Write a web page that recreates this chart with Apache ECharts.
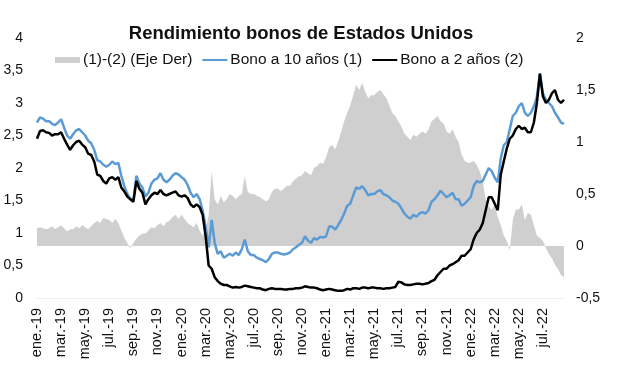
<!DOCTYPE html>
<html>
<head>
<meta charset="utf-8">
<script src="https://cdn.jsdelivr.net/npm/echarts@6/dist/echarts.min.js"></script>
<style>
html,body{margin:0;padding:0;background:#fff;}
#chart{width:617px;height:376px;}
</style>
</head>
<body>
<div id="chart"></div>
<script>
// meses del eje X (4 lecturas por mes)
var meses = ['ene.-19','feb.-19','mar.-19','abr.-19','may.-19','jun.-19','jul.-19','ago.-19','sep.-19','oct.-19','nov.-19','dic.-19',
	'ene.-20','feb.-20','mar.-20','abr.-20','may.-20','jun.-20','jul.-20','ago.-20','sep.-20','oct.-20','nov.-20','dic.-20',
	'ene.-21','feb.-21','mar.-21','abr.-21','may.-21','jun.-21','jul.-21','ago.-21','sep.-21','oct.-21','nov.-21','dic.-21',
	'ene.-22','feb.-22','mar.-22','abr.-22','may.-22','jun.-22','jul.-22','ago.-22'];

// Bono a 10 años (1)
var bono10 = [
	2.70,2.78,2.76,2.72, 2.72,2.68,2.66,2.70, 2.75,2.62,2.50,2.45, 2.52,2.58,2.60,2.55,
	2.50,2.42,2.38,2.28, 2.12,2.10,2.05,2.02, 2.05,2.10,2.06,2.08, 1.88,1.72,1.60,1.52,
	1.50,1.88,1.76,1.70, 1.56,1.62,1.76,1.82, 1.84,1.92,1.82,1.78, 1.82,1.88,1.92,1.90,
	1.86,1.82,1.74,1.62, 1.55,1.60,1.52,1.35, 1.10,0.78,1.20,0.85, 0.68,0.72,0.62,0.65,
	0.68,0.65,0.70,0.66, 0.75,0.90,0.72,0.66, 0.66,0.62,0.60,0.58, 0.55,0.60,0.68,0.70,
	0.70,0.68,0.67,0.68, 0.70,0.75,0.78,0.82, 0.85,0.95,0.88,0.85, 0.92,0.90,0.94,0.93,
	0.95,1.10,1.10,1.05, 1.12,1.20,1.30,1.42, 1.45,1.58,1.70,1.68, 1.72,1.66,1.58,1.60,
	1.60,1.64,1.66,1.60, 1.58,1.55,1.50,1.48, 1.45,1.38,1.30,1.25, 1.22,1.28,1.25,1.30,
	1.32,1.30,1.35,1.48, 1.52,1.58,1.65,1.60, 1.55,1.58,1.62,1.52, 1.52,1.42,1.45,1.50,
	1.55,1.72,1.80,1.78, 1.80,1.90,2.00,1.95, 1.85,1.78,2.15,2.35, 2.40,2.60,2.80,2.85,
	2.95,3.00,2.85,2.80, 2.85,2.95,3.10,3.45, 3.15,3.05,3.00,2.95, 2.85,2.78,2.70,2.68
];

// Bono a 2 años (2)
var bono2 = [
	2.45,2.57,2.58,2.55, 2.54,2.50,2.52,2.52, 2.55,2.45,2.36,2.28, 2.35,2.40,2.42,2.36,
	2.32,2.22,2.20,2.10, 1.90,1.88,1.80,1.76, 1.84,1.86,1.82,1.86, 1.70,1.64,1.56,1.52,
	1.48,1.80,1.68,1.62, 1.44,1.52,1.58,1.62, 1.60,1.66,1.60,1.58, 1.60,1.62,1.64,1.58,
	1.56,1.58,1.54,1.44, 1.40,1.44,1.40,1.28, 0.95,0.50,0.45,0.32, 0.26,0.22,0.20,0.20,
	0.18,0.16,0.17,0.16, 0.17,0.19,0.18,0.17, 0.16,0.15,0.15,0.13, 0.12,0.14,0.15,0.14,
	0.14,0.14,0.13,0.13, 0.14,0.14,0.15,0.15, 0.16,0.18,0.17,0.16, 0.16,0.15,0.13,0.12,
	0.13,0.14,0.13,0.12, 0.11,0.11,0.12,0.14, 0.13,0.15,0.15,0.14, 0.16,0.16,0.15,0.16,
	0.16,0.15,0.15,0.14, 0.15,0.15,0.16,0.17, 0.25,0.24,0.21,0.20, 0.20,0.21,0.22,0.22,
	0.21,0.22,0.23,0.26, 0.28,0.35,0.40,0.45, 0.45,0.50,0.52,0.55, 0.58,0.65,0.65,0.70,
	0.75,0.90,1.00,1.05, 1.15,1.35,1.55,1.55, 1.45,1.35,1.90,2.10, 2.30,2.45,2.50,2.60,
	2.65,2.60,2.62,2.55, 2.55,2.70,3.00,3.45, 3.10,3.00,3.05,3.15, 3.20,3.05,3.00,3.05
];

// (1)-(2) diferencial, eje derecho
var diferencial = [
	0.17,0.18,0.17,0.16, 0.17,0.19,0.16,0.18, 0.20,0.17,0.14,0.16, 0.16,0.19,0.17,0.20,
	0.18,0.16,0.19,0.22, 0.24,0.22,0.27,0.26, 0.25,0.22,0.26,0.22, 0.15,0.08,0.03,-0.02,
	0.03,0.07,0.10,0.12, 0.12,0.15,0.18,0.17, 0.20,0.22,0.19,0.23, 0.24,0.28,0.30,0.26,
	0.30,0.26,0.22,0.20, 0.18,0.22,0.15,0.10, 0.15,0.30,0.72,0.45, 0.40,0.48,0.42,0.45,
	0.50,0.48,0.45,0.48, 0.50,0.67,0.52,0.50, 0.50,0.48,0.47,0.45, 0.43,0.45,0.52,0.55,
	0.55,0.53,0.55,0.58, 0.58,0.62,0.65,0.67, 0.68,0.72,0.70,0.68, 0.75,0.77,0.80,0.79,
	0.85,0.95,0.97,0.93, 1.00,1.10,1.20,1.28, 1.35,1.45,1.55,1.50, 1.57,1.48,1.42,1.45,
	1.45,1.48,1.50,1.46, 1.42,1.35,1.28,1.25, 1.20,1.15,1.08,1.05, 1.02,1.07,1.05,1.08,
	1.10,1.08,1.12,1.20, 1.22,1.25,1.20,1.18, 1.10,1.08,1.12,1.05, 1.00,0.88,0.82,0.80,
	0.80,0.82,0.78,0.72, 0.62,0.45,0.38,0.35, 0.40,0.28,0.20,0.10, 0.05,-0.04,0.25,0.35,
	0.35,0.40,0.25,0.32, 0.30,0.20,0.10,0.08, 0.05,-0.02,-0.08,-0.12, -0.18,-0.22,-0.28,-0.30
];

var categorias = [];
for (var i = 0; i < meses.length; i++) {
	for (var s = 0; s < 4; s++) {
		categorias.push(meses[i] + '#' + s);
	}
}

function coma(v) {
	return String(v).replace('.', ',');
}

var myChart = echarts.init(document.getElementById('chart'));
var fuente = '"Liberation Sans", Arial, sans-serif';
var option = {
	animation: false,
	backgroundColor: '#fff',
	textStyle: { fontFamily: fuente },
	title: {
		text: 'Rendimiento bonos de Estados Unidos',
		left: 296,
		textAlign: 'center',
		top: 19,
		textStyle: { fontSize: 18.5, fontWeight: 'bold', color: '#111', fontFamily: fuente }
	},
	legend: {
		left: 50,
		top: 47,
		itemWidth: 25,
		itemHeight: 6,
		itemGap: 9,
		textStyle: { fontSize: 15.5, color: '#111', fontFamily: fuente, padding: [0, 0, 0, -2] },
		data: [
			{ name: '(1)-(2) (Eje Der)', icon: 'rect' },
			{ name: 'Bono a 10 años (1)', itemStyle: { opacity: 0 }, lineStyle: { width: 2 } },
			{ name: 'Bono a 2 años (2)', itemStyle: { opacity: 0 }, lineStyle: { width: 2 } }
		]
	},
	grid: { left: 37, right: 53, top: 38, bottom: 78 },
	xAxis: {
		type: 'category',
		boundaryGap: false,
		data: categorias,
		axisLine: { show: true, lineStyle: { color: '#eeeeee' } },
		axisTick: { show: false },
		axisLabel: {
			interval: 7,
			rotate: 90,
			margin: 10,
			fontSize: 14.5,
			color: '#111',
			formatter: function (v) { return v.split('#')[0]; }
		}
	},
	yAxis: [
		{
			type: 'value',
			min: 0,
			max: 4,
			interval: 0.5,
			position: 'left',
			axisLine: { show: false },
			axisTick: { show: false },
			splitLine: { show: false },
			axisLabel: { fontSize: 14, color: '#111', margin: 14, formatter: coma }
		},
		{
			type: 'value',
			min: -0.5,
			max: 2,
			interval: 0.5,
			position: 'right',
			axisLine: { show: false },
			axisTick: { show: false },
			splitLine: { show: false },
			axisLabel: { fontSize: 14, color: '#111', margin: 12, formatter: coma }
		}
	],
	series: [
		{
			name: '(1)-(2) (Eje Der)',
			type: 'line',
			yAxisIndex: 1,
			data: diferencial,
			symbol: 'none',
			lineStyle: { width: 0, opacity: 0 },
			itemStyle: { color: '#cfcfcf' },
			areaStyle: { color: '#cfcfcf', opacity: 1 }
		},
		{
			name: 'Bono a 10 años (1)',
			type: 'line',
			data: bono10,
			symbol: 'none',
			itemStyle: { color: '#5b9bd5' },
			lineStyle: { width: 2.5, color: '#5b9bd5' }
		},
		{
			name: 'Bono a 2 años (2)',
			type: 'line',
			data: bono2,
			symbol: 'none',
			itemStyle: { color: '#000' },
			lineStyle: { width: 2.5, color: '#000' }
		}
	]
};

if (option && typeof option === "object") {
	myChart.setOption(option, true);
}
</script>
</body>
</html>
